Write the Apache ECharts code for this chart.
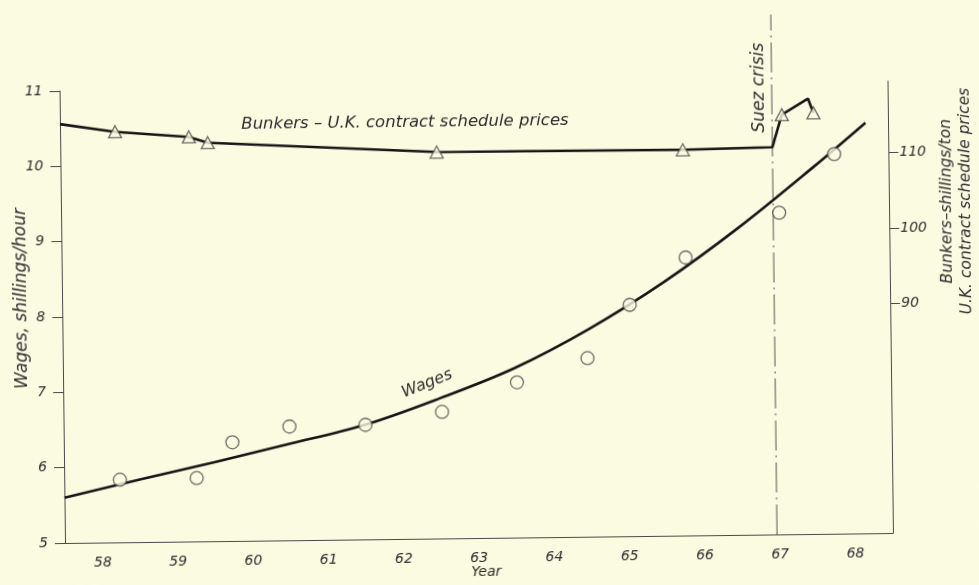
<!DOCTYPE html>
<html>
<head>
<meta charset="utf-8">
<title>Wages and bunker prices</title>
<script src="https://cdn.jsdelivr.net/npm/echarts@6.0.0/dist/echarts.min.js"></script>
<style>
  html, body { margin: 0; padding: 0; background: #fbfbe2; overflow: hidden; }
  /* the printed figure sits slightly tilted on the page */
  #chart { width: 979px; height: 585px; transform: rotate(-0.69deg); transform-origin: 65px 543px; }
</style>
</head>
<body>
<div id="chart"></div>
<script>
const yearLabels = ["58", "59", "60", "61", "62", "63", "64", "65", "66", "67", "68"];

// wages, shillings/hour (observed points)
const wageYears = [58.74, 59.76, 60.24, 61.0, 62.01, 63.03, 64.03, 64.97, 65.54, 66.29, 67.54, 68.28];
const wageValues = [5.83, 5.84, 6.31, 6.51, 6.52, 6.68, 7.06, 7.37, 8.07, 8.69, 9.27, 10.04];

// fitted wage curve as drawn
const fitYears = [58, 59, 60, 61, 62, 63, 64, 65, 66, 67, 68, 68.7];
const fitValues = [5.6, 5.83, 6.05, 6.28, 6.52, 6.86, 7.25, 7.76, 8.37, 9.08, 9.87, 10.45];

// bunkers - U.K. contract schedule prices, shillings/ton
const bunkerYears = [58, 58.73, 59.71, 59.96, 63.0, 66.27, 67.46, 67.59, 67.94, 68.01];
const bunkerPrices = [115.1, 114.0, 113.2, 112.4, 110.8, 110.7, 110.9, 115.2, 117.3, 115.4];
const bunkerObsYears = [58.73, 59.71, 59.96, 63.0, 66.27, 67.59, 68.01];
const bunkerObsPrices = [114.0, 113.2, 112.4, 110.8, 110.7, 115.2, 115.4];

const rightTicks = [90, 100, 110];
const suezYear = 67.46;

const paper = "#fbfbe2";
const ink = "#161616";
const textColor = "#2e2e2e";
const fontFamily = '"DejaVu Sans", sans-serif';

const zip = (xs, ys) => xs.map((x, i) => [x, ys[i]]);

function label(text, x, y, rotation, size) {
  return {
    type: "text",
    x: x,
    y: y,
    rotation: rotation || 0,
    style: {
      text: text,
      fill: textColor,
      fontFamily: fontFamily,
      fontStyle: "italic",
      fontSize: size || 14,
      lineHeight: 19,
      align: "center",
      verticalAlign: "middle"
    }
  };
}

const chart = echarts.init(document.getElementById("chart"));

const option = {
  backgroundColor: paper,
  animation: false,
  grid: [
    { left: 65, right: 86, top: 91, bottom: 42 },
    { left: 65, right: 86, top: 23, bottom: 42 }
  ],
  xAxis: [
    {
      type: "category",
      gridIndex: 0,
      data: yearLabels,
      boundaryGap: true,
      axisLine: { lineStyle: { color: "#4a4a4a", width: 1 } },
      axisTick: { length: 5, lineStyle: { color: "#4a4a4a" } },
      axisLabel: {
        margin: 13,
        color: textColor,
        fontFamily: fontFamily,
        fontStyle: "italic",
        fontSize: 14
      }
    },
    { type: "value", gridIndex: 0, min: 58, max: 69, show: false },
    { type: "value", gridIndex: 1, min: 58, max: 69, show: false }
  ],
  yAxis: [
    {
      type: "value",
      gridIndex: 0,
      min: 5,
      max: 11,
      interval: 1,
      splitLine: { show: false },
      axisLine: { show: true, lineStyle: { color: "#4a4a4a", width: 1 } },
      axisTick: { show: true, length: 10, lineStyle: { color: "#4a4a4a" } },
      axisLabel: {
        margin: 17,
        color: textColor,
        fontFamily: fontFamily,
        fontStyle: "italic",
        fontSize: 14
      }
    },
    {
      type: "value",
      gridIndex: 0,
      position: "right",
      min: 59.5,
      max: 119.5,
      splitLine: { show: false },
      axisLine: { show: true, lineStyle: { color: "#4a4a4a", width: 1 } },
      axisTick: { show: true, length: 10, customValues: rightTicks, lineStyle: { color: "#4a4a4a" } },
      axisLabel: {
        margin: 11,
        customValues: rightTicks,
        color: textColor,
        fontFamily: fontFamily,
        fontStyle: "italic",
        fontSize: 14
      }
    },
    { type: "value", gridIndex: 1, min: 0, max: 1, show: false }
  ],
  graphic: [
    label("Bunkers \u2013 U.K. contract schedule prices", 410, 127, 0, 16.5),
    label("Wages", 429, 388, 21 * Math.PI / 180, 16),
    label("Suez crisis", 765, 96, Math.PI / 2, 17),
    label("Wages, shillings/hour", 25, 298, Math.PI / 2, 17),
    label("Bunkers\u2013shillings/ton\nU.K. contract schedule prices", 960, 212, Math.PI / 2, 15.5),
    label("Year", 486, 577, 0, 14)
  ],
  series: [
    {
      name: "Suez crisis",
      type: "line",
      xAxisIndex: 2,
      yAxisIndex: 2,
      data: [[suezYear, 0], [suezYear, 1]],
      showSymbol: false,
      silent: true,
      lineStyle: { color: "#555", width: 1, type: [30, 5, 2, 5] },
      z: 1
    },
    {
      name: "Wages fit",
      type: "line",
      xAxisIndex: 1,
      yAxisIndex: 0,
      data: zip(fitYears, fitValues),
      smooth: 0.35,
      showSymbol: false,
      lineStyle: { color: ink, width: 2.6 },
      z: 2
    },
    {
      name: "Wages",
      type: "scatter",
      xAxisIndex: 1,
      yAxisIndex: 0,
      data: zip(wageYears, wageValues),
      symbol: "circle",
      symbolSize: 13,
      itemStyle: { color: paper, borderColor: "#4a4a4a", borderWidth: 1.3 },
      z: 3
    },
    {
      name: "Bunkers",
      type: "line",
      xAxisIndex: 1,
      yAxisIndex: 1,
      data: zip(bunkerYears, bunkerPrices),
      showSymbol: false,
      lineStyle: { color: ink, width: 2.6 },
      z: 2
    },
    {
      name: "Bunkers observed",
      type: "scatter",
      xAxisIndex: 1,
      yAxisIndex: 1,
      data: zip(bunkerObsYears, bunkerObsPrices),
      symbol: "triangle",
      symbolSize: [13, 12],
      itemStyle: { color: paper, borderColor: "#4a4a4a", borderWidth: 1.3 },
      z: 3
    }
  ]
};

chart.setOption(option);
</script>
</body>
</html>
